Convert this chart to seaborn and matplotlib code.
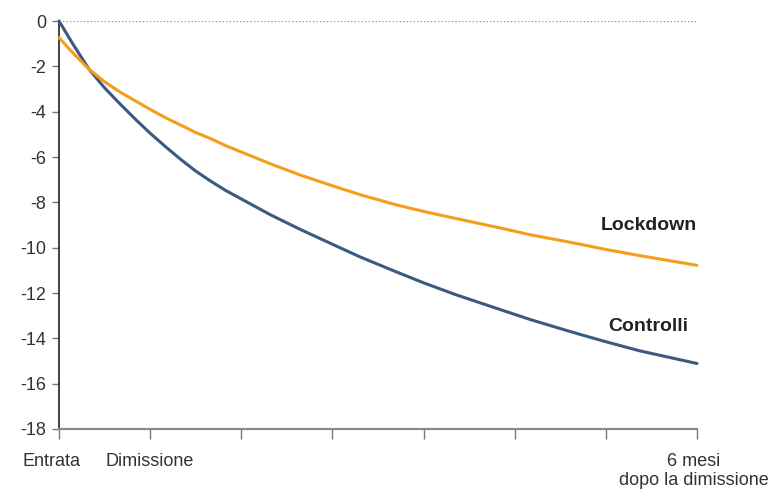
import pandas as pd
import seaborn as sns
import matplotlib.pyplot as plt
from matplotlib.transforms import ScaledTranslation

# values (time index: 0 = Entrata, 1 = Dimissione, 7 = 6 mesi dopo)
time_points = [0.0, 0.15, 0.33, 0.5, 0.68, 0.85, 1.0, 1.17, 1.34, 1.5, 1.67, 1.83, 2.0,
               2.32, 2.65, 3.0, 3.31, 3.69, 4.0, 4.35, 4.84, 5.17, 5.5, 5.72, 6.0, 6.37, 7.0]
controlli = [0.0, -1.0, -2.13, -2.95, -3.70, -4.38, -4.95, -5.55, -6.12, -6.62, -7.08, -7.48, -7.85,
             -8.55, -9.2, -9.85, -10.42, -11.05, -11.55, -12.07, -12.73, -13.17, -13.57, -13.83,
             -14.15, -14.55, -15.11]
lockdown = [-0.73, -1.4, -2.13, -2.68, -3.16, -3.55, -3.90, -4.27, -4.6, -4.92, -5.2, -5.5, -5.78,
            -6.3, -6.8, -7.27, -7.67, -8.1, -8.4, -8.71, -9.13, -9.43, -9.68, -9.85,
            -10.08, -10.35, -10.78]

groups = ["Controlli", "Lockdown"]
colors = {"Controlli": "#3A5A80", "Lockdown": "#F59E1B"}
y_ticks = list(range(-18, 1, 2))
x_ticks = list(range(0, 8))
x_labels = ["Entrata", "Dimissione", "", "", "", "", "", "6 mesi\ndopo la dimissione"]

df = pd.concat([
    pd.DataFrame({"t": time_points, "val": controlli, "gruppo": "Controlli"}),
    pd.DataFrame({"t": time_points, "val": lockdown, "gruppo": "Lockdown"}),
])

sns.set_style("white")
plt.rcParams["font.family"] = ["Liberation Sans", "DejaVu Sans"]

fig = plt.figure(figsize=(7.79, 4.91), dpi=100)
ax = fig.add_axes([59 / 779, 1 - 429 / 491, (697 - 59) / 779, (429 - 21) / 491])

# zero reference line
ax.axhline(0, color="#999999", lw=1, ls=(0, (1, 1.5)), zorder=1)

sns.lineplot(data=df, x="t", y="val", hue="gruppo", hue_order=groups,
             palette=colors, lw=2.2, legend=False, ax=ax, clip_on=False, zorder=3)

ax.set_xlim(0, 7)
ax.set_ylim(-18, 0)
ax.set_yticks(y_ticks)
ax.set_yticklabels([str(v) for v in y_ticks])
ax.set_xticks(x_ticks)
ax.set_xticklabels(x_labels, linespacing=1.2)
ax.set_xlabel("")
ax.set_ylabel("")

for s in ["top", "right"]:
    ax.spines[s].set_visible(False)
ax.spines["left"].set_color("#222222")
ax.spines["left"].set_linewidth(1.2)
ax.spines["bottom"].set_color("#8a8a8a")
ax.spines["bottom"].set_linewidth(1.6)

ax.tick_params(axis="x", length=7, width=1, color="#777777", pad=10,
               labelsize=13, labelcolor="#333333")
ax.tick_params(axis="y", length=5, width=1, color="#777777", pad=4,
               labelsize=13, labelcolor="#333333")
ax.tick_params(left=True, bottom=True)

# nudge first and last labels like the original
labels = ax.get_xticklabels()
first = labels[0]
first.set_transform(first.get_transform() + ScaledTranslation(-8 / 100, 0, fig.dpi_scale_trans))
last = labels[-1]
last.set_transform(last.get_transform() + ScaledTranslation(-3 / 100, 0, fig.dpi_scale_trans))

ax.text(7.0, -9.03, "Lockdown", ha="right", va="center", fontsize=14,
        fontweight="bold", color="#222222")
ax.text(6.9, -13.47, "Controlli", ha="right", va="center", fontsize=14,
        fontweight="bold", color="#222222")

fig.savefig("out.png", dpi=100)
